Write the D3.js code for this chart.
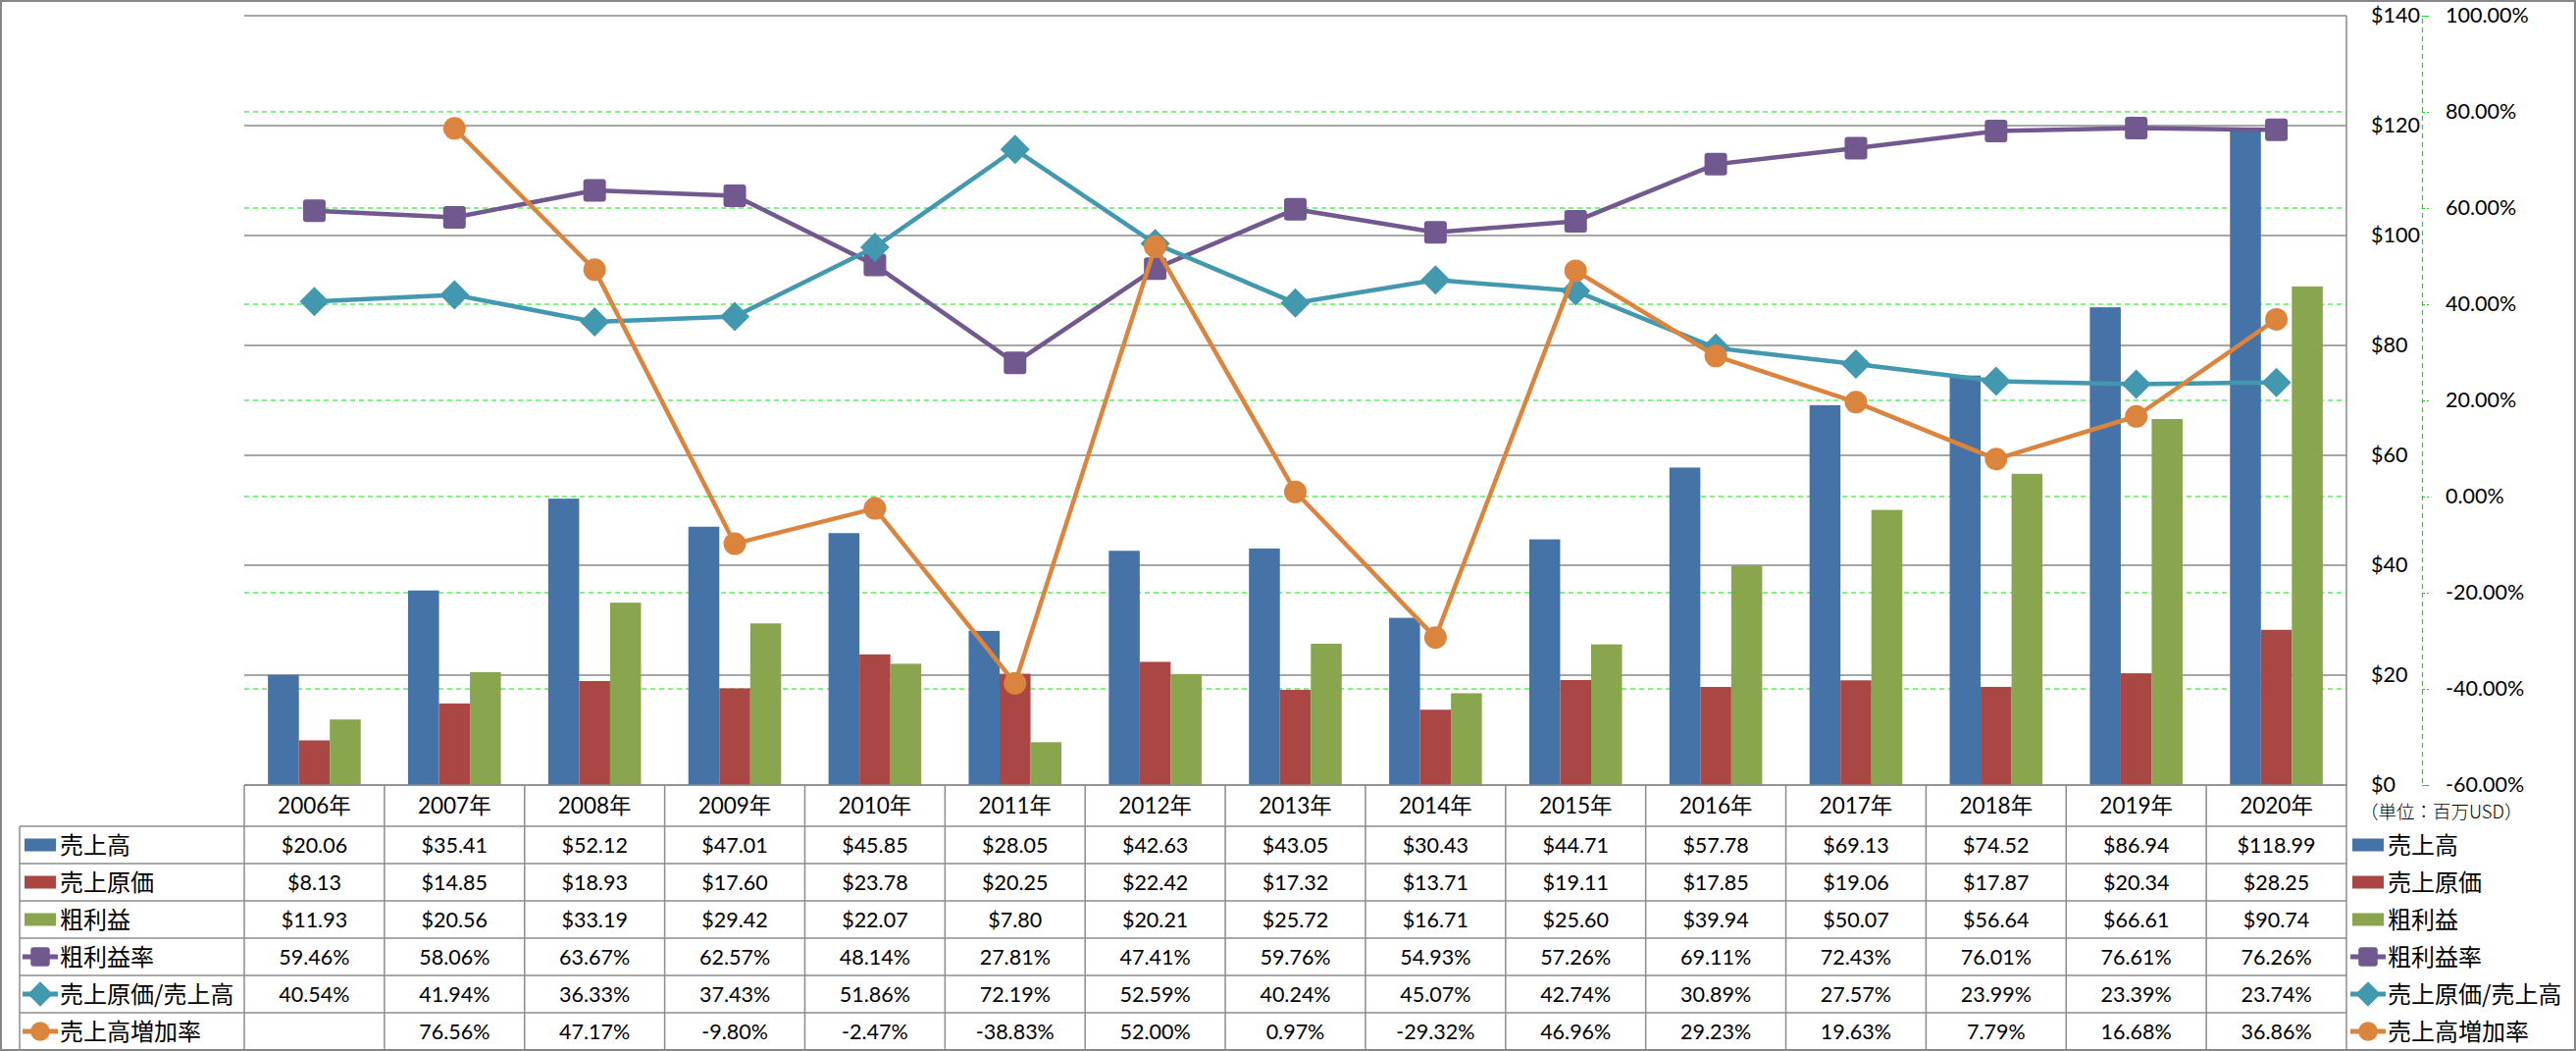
<!DOCTYPE html>
<html><head><meta charset="utf-8">
<script src="https://cdn.jsdelivr.net/npm/d3@7"></script>
<style>
body{margin:0;background:#fff}
svg{display:block}
text{font-family:Lato,"Noto Sans CJK JP",sans-serif;fill:#000}
</style>
</head><body>
<svg id="chart" width="2626" height="1071"></svg>
<script>
// ---- data ----
const years = ["2006年","2007年","2008年","2009年","2010年","2011年","2012年","2013年","2014年","2015年","2016年","2017年","2018年","2019年","2020年"];
const sales = [20.06,35.41,52.12,47.01,45.85,28.05,42.63,43.05,30.43,44.71,57.78,69.13,74.52,86.94,118.99];
const cogs = [8.13,14.85,18.93,17.60,23.78,20.25,22.42,17.32,13.71,19.11,17.85,19.06,17.87,20.34,28.25];
const gross = [11.93,20.56,33.19,29.42,22.07,7.80,20.21,25.72,16.71,25.60,39.94,50.07,56.64,66.61,90.74];
const grossRate = [59.46,58.06,63.67,62.57,48.14,27.81,47.41,59.76,54.93,57.26,69.11,72.43,76.01,76.61,76.26];
const cogsRatio = [40.54,41.94,36.33,37.43,51.86,72.19,52.59,40.24,45.07,42.74,30.89,27.57,23.99,23.39,23.74];
const growth = [null,76.56,47.17,-9.80,-2.47,-38.83,52.00,0.97,-29.32,46.96,29.23,19.63,7.79,16.68,36.86];
const moneyTicks = [0,20,40,60,80,100,120,140];
const pctTicks = [-60,-40,-20,0,20,40,60,80,100];
const seriesNames = ["売上高","売上原価","粗利益","粗利益率","売上原価/売上高","売上高増加率"];
const unitNote = "（単位：百万USD）";

// ---- styles ----
const colors = {"売上高":"#4572A7","売上原価":"#AA4643","粗利益":"#89A54E","粗利益率":"#71588F","売上原価/売上高":"#4198AF","売上高増加率":"#DB843D"};
const barSeries = [{name:"売上高",values:sales},{name:"売上原価",values:cogs},{name:"粗利益",values:gross}];
const lineSeries = [{name:"粗利益率",values:grossRate,marker:"square"},{name:"売上原価/売上高",values:cogsRatio,marker:"diamond"},{name:"売上高増加率",values:growth,marker:"circle"}];

const loc=d3.formatLocale({decimal:".",thousands:",",grouping:[3],currency:["$",""],minus:"-"});
const f2=loc.format(".2f");

const W=2626,H=1071;
const plot={left:249,right:2392,top:16,bottom:800};
const svg=d3.select("#chart");

const x=d3.scaleBand().domain(years).range([plot.left,plot.right]);
const bw=x.bandwidth();
const xs=d3.scaleBand().domain(barSeries.map(d=>d.name)).range([bw*0.169,bw*0.831]);
const yL=d3.scaleLinear().domain([0,140]).range([plot.bottom,plot.top]);
const yR=d3.scaleLinear().domain([-60,100]).range([plot.bottom,plot.top]);

// grey gridlines
svg.append("g").selectAll("line").data(moneyTicks).join("line")
  .attr("x1",plot.left).attr("x2",plot.right)
  .attr("y1",d=>yL(d)).attr("y2",d=>yL(d))
  .attr("stroke","#888").attr("stroke-width",1.5);
// green dashed gridlines
svg.append("g").selectAll("line").data(pctTicks.filter(d=>d>-60&&d<100)).join("line")
  .attr("x1",plot.left).attr("x2",plot.right)
  .attr("y1",d=>yR(d)).attr("y2",d=>yR(d))
  .attr("stroke","#00e600").attr("stroke-width",1.2).attr("stroke-dasharray","5,4");
// plot right border
svg.append("line").attr("x1",plot.right).attr("x2",plot.right).attr("y1",plot.top).attr("y2",plot.bottom)
  .attr("stroke","#888").attr("stroke-width",1.5);

// bars
const bg=svg.append("g");
barSeries.forEach(s=>{
  bg.append("g").selectAll("rect").data(s.values).join("rect")
    .attr("x",(d,i)=>x(years[i])+xs(s.name))
    .attr("width",xs.bandwidth())
    .attr("y",d=>yL(d)).attr("height",d=>yL(0)-yL(d))
    .attr("fill",colors[s.name]);
});

function drawMarker(g,type,cx,cy,color,scale=1){
  if(type==="square"){
    const s=23*scale;
    g.append("rect").attr("x",cx-s/2).attr("y",cy-s/2).attr("width",s).attr("height",s).attr("rx",3).attr("fill",color);
  }else if(type==="circle"){
    g.append("circle").attr("cx",cx).attr("cy",cy).attr("r",11.5*scale).attr("fill",color);
  }else{
    const r=15*scale;
    g.append("path").attr("d",`M${cx},${cy-r}L${cx+r},${cy}L${cx},${cy+r}L${cx-r},${cy}Z`).attr("fill",color);
  }
}

// lines
lineSeries.forEach(s=>{
  const g=svg.append("g");
  const line=d3.line().defined(d=>d!==null).x((d,i)=>x(years[i])+bw/2).y(d=>yR(d));
  g.append("path").datum(s.values).attr("d",line).attr("fill","none")
    .attr("stroke",colors[s.name]).attr("stroke-width",4.5).attr("stroke-linejoin","round");
  s.values.forEach((v,i)=>{ if(v!==null) drawMarker(g,s.marker,x(years[i])+bw/2,yR(v),colors[s.name]); });
});

// money axis
const axL=svg.append("g").attr("transform",`translate(2417,0)`)
  .call(d3.axisRight(yL).tickValues(moneyTicks).tickSize(0).tickPadding(0).tickFormat(d=>"$"+d));
axL.select(".domain").remove();
axL.selectAll("text").attr("font-size",21.5).attr("font-family",'Lato,"Noto Sans CJK JP",sans-serif').attr("fill","#000");

// percent axis
const axR=svg.append("g").attr("transform",`translate(2469,0)`)
  .call(d3.axisRight(yR).tickValues(pctTicks).tickSize(7).tickPadding(17).tickFormat(d=>f2(d)+"%"));
axR.select(".domain").attr("stroke","#00e600").attr("stroke-width",1.2).attr("stroke-dasharray","5,4");
axR.selectAll(".tick line").attr("stroke","#00e600").attr("stroke-width",1.2).attr("stroke-dasharray","3,2");
axR.selectAll("text").attr("font-size",21.5).attr("font-family",'Lato,"Noto Sans CJK JP",sans-serif')
  .attr("fill",d=>d<0?"#ff0000":"#000");

// unit note
svg.append("text").attr("x",2406).attr("y",828).attr("dy","0.35em").attr("font-size",18.5).attr("fill","#000")
  .attr("font-weight",300)
  .style("font-family",'"Noto Sans CJK JP",sans-serif').text(unitNote);

// ---- data table ----
const headTop=800, headBot=842, rowH=38, tableLeft=20;
const rowY=i=>headBot+i*rowH;
const tg=svg.append("g");
const lineStyle=sel=>sel.attr("stroke","#8c8c8c").attr("stroke-width",1.5);
tg.append("line").attr("x1",plot.left).attr("x2",plot.right).attr("y1",headTop).attr("y2",headTop).call(lineStyle);
d3.range(7).forEach(i=>{
  tg.append("line").attr("x1",tableLeft).attr("x2",plot.right).attr("y1",rowY(i)).attr("y2",rowY(i)).call(lineStyle);
});
tg.append("line").attr("x1",tableLeft).attr("x2",tableLeft).attr("y1",headBot).attr("y2",rowY(6)).call(lineStyle);
years.forEach(y=>{
  tg.append("line").attr("x1",x(y)).attr("x2",x(y)).attr("y1",headTop).attr("y2",rowY(6)).call(lineStyle);
});
tg.append("line").attr("x1",plot.right).attr("x2",plot.right).attr("y1",headTop).attr("y2",rowY(6)).call(lineStyle);

// header
tg.selectAll("text.hd").data(years).join("text").attr("class","hd")
  .attr("x",d=>x(d)+bw/2).attr("y",(headTop+headBot)/2).attr("dy","0.36em")
  .attr("text-anchor","middle").attr("font-size",22.5).text(d=>d);

const fmtMoney=d=>"$"+f2(d);
const fmtPct=d=>d===null?"":f2(d)+"%";
const rows=[
  {name:"売上高",values:sales,fmt:fmtMoney,key:"rect"},
  {name:"売上原価",values:cogs,fmt:fmtMoney,key:"rect"},
  {name:"粗利益",values:gross,fmt:fmtMoney,key:"rect"},
  {name:"粗利益率",values:grossRate,fmt:fmtPct,key:"square"},
  {name:"売上原価/売上高",values:cogsRatio,fmt:fmtPct,key:"diamond"},
  {name:"売上高増加率",values:growth,fmt:fmtPct,key:"circle"}
];
function drawKey(g,r,x0,cy){
  const c=colors[r.name];
  if(r.key==="rect"){
    g.append("rect").attr("x",x0).attr("y",cy-6.5).attr("width",32).attr("height",13).attr("fill",c);
  }else{
    g.append("line").attr("x1",x0-2).attr("x2",x0+34).attr("y1",cy).attr("y2",cy).attr("stroke",c).attr("stroke-width",5);
    drawMarker(g,r.key,x0+16,cy,c,0.85);
  }
}
rows.forEach((r,ri)=>{
  const cy=rowY(ri)+rowH/2;
  drawKey(tg,r,25,cy);
  tg.append("text").attr("x",61).attr("y",cy).attr("dy","0.36em").attr("font-size",24)
    .style("font-family",'"Noto Sans CJK JP",sans-serif').text(r.name);
  r.values.forEach((v,i)=>{
    tg.append("text").attr("x",x(years[i])+bw/2).attr("y",cy).attr("dy","0.36em")
      .attr("text-anchor","middle").attr("font-size",21.5).text(r.fmt(v));
  });
  // right legend
  drawKey(tg,r,2398,cy);
  tg.append("text").attr("x",2434).attr("y",cy).attr("dy","0.36em").attr("font-size",24)
    .style("font-family",'"Noto Sans CJK JP",sans-serif').text(r.name);
});

// outer border
svg.append("rect").attr("x",1).attr("y",1).attr("width",W-2).attr("height",H-2)
  .attr("fill","none").attr("stroke","#868686").attr("stroke-width",2);
</script>
</body></html>
